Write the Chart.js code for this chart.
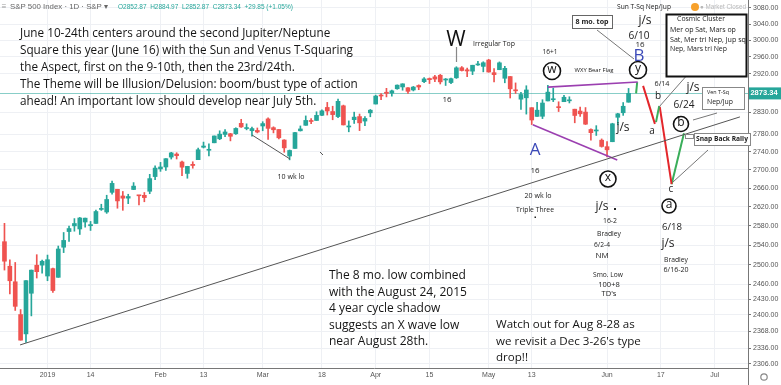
<!DOCTYPE html>
<html>
<head>
<meta charset="utf-8">
<script src="https://cdn.jsdelivr.net/npm/chart.js@4.4.0/dist/chart.umd.min.js"></script>
<style>
html, body { margin: 0; padding: 0; background: #fff; }
#wrap { width: 781px; height: 385px; }
</style>
</head>
<body>
<div id="wrap"><canvas id="chart" width="781" height="385"></canvas></div>
<script>
// S&P 500 daily candles, Dec 19 2018 .. Jun 7 2019 (x = trading day index)
const opens = [
    2547.05, 2496.77, 2465.38, 2400.56, 2363.12, 2442.50, 2498.77, 2498.94,
    2476.96, 2491.92, 2474.33, 2535.61, 2568.11, 2580.00, 2573.51, 2588.11, 2580.31, 2585.10, 2614.75, 2609.28, 2651.27, 2657.88, 2643.48, 2638.84, 2657.44, 2644.97, 2644.89, 2653.62, 2685.49,
    2702.32, 2706.49, 2728.34, 2735.05, 2717.53, 2692.36, 2712.40, 2722.61, 2750.30, 2743.50, 2760.24, 2769.28, 2779.05, 2780.67, 2780.67, 2804.35, 2792.36, 2787.50, 2788.11,
    2798.22, 2814.37, 2794.41, 2790.27, 2766.53, 2730.79, 2747.61, 2787.34, 2799.78, 2810.38, 2810.79, 2822.61, 2840.76, 2831.34, 2819.72, 2844.52, 2796.01, 2812.66, 2819.72, 2809.40, 2828.27,
    2848.63, 2868.24, 2876.09, 2873.99, 2884.16, 2888.46, 2886.58, 2881.37, 2891.92, 2900.86, 2908.32, 2912.26, 2916.04, 2904.81, 2898.78, 2909.99, 2934.00, 2928.99, 2925.81, 2940.58, 2937.14,
    2952.33, 2922.16, 2929.21, 2908.89, 2913.03, 2879.61, 2859.84, 2863.10, 2840.19, 2820.12, 2820.38, 2855.80, 2858.60, 2841.94, 2854.02, 2856.06, 2836.70, 2832.41, 2830.03, 2790.25, 2786.94, 2766.15,
    2751.53, 2762.64, 2818.09, 2828.51, 2852.87
];
const highs = [
    2585.29, 2509.63, 2504.41, 2410.34, 2467.76, 2489.10, 2520.27, 2509.24,
    2519.49, 2493.14, 2538.07, 2566.16, 2579.82, 2595.32, 2597.82, 2596.27, 2589.32, 2613.08, 2625.76, 2645.06, 2675.47, 2657.88, 2653.19, 2647.20, 2672.38, 2644.97, 2650.93, 2690.44, 2708.95,
    2716.66, 2724.99, 2738.98, 2738.08, 2719.32, 2708.07, 2718.05, 2748.19, 2761.85, 2757.90, 2775.66, 2787.33, 2789.88, 2781.58, 2794.20, 2813.49, 2803.12, 2795.76, 2793.73,
    2808.02, 2816.88, 2796.44, 2790.27, 2767.25, 2744.13, 2784.00, 2798.32, 2821.24, 2815.00, 2830.73, 2835.41, 2852.42, 2843.54, 2860.31, 2846.16, 2809.79, 2829.87, 2825.56, 2819.71, 2836.03,
    2869.40, 2872.90, 2885.25, 2881.28, 2893.24, 2895.95, 2886.88, 2889.71, 2893.42, 2910.54, 2909.60, 2916.06, 2918.00, 2908.40, 2909.51, 2936.31, 2936.83, 2933.10, 2939.88, 2949.52, 2948.22,
    2954.13, 2931.68, 2947.85, 2937.32, 2913.03, 2897.96, 2875.97, 2891.31, 2840.19, 2852.54, 2858.68, 2892.15, 2885.48, 2853.86, 2868.88, 2865.47, 2836.70, 2841.36, 2840.51, 2792.03, 2799.00, 2768.98,
    2763.07, 2804.49, 2827.28, 2852.10, 2884.97
];
const lows = [
    2488.96, 2441.18, 2408.55, 2351.10, 2346.58, 2397.94, 2472.89, 2482.82,
    2467.47, 2443.96, 2474.33, 2524.56, 2547.56, 2568.89, 2562.02, 2577.40, 2570.41, 2585.10, 2612.68, 2606.36, 2647.58, 2617.27, 2612.86, 2627.01, 2657.33, 2624.06, 2631.05, 2648.34, 2678.65,
    2696.88, 2698.75, 2724.03, 2724.15, 2687.26, 2681.83, 2703.79, 2722.61, 2748.63, 2731.23, 2760.24, 2767.29, 2774.06, 2764.55, 2779.11, 2794.99, 2789.47, 2775.13, 2782.51,
    2787.38, 2767.66, 2782.54, 2768.69, 2739.09, 2722.27, 2747.61, 2786.73, 2799.78, 2803.46, 2810.79, 2821.99, 2823.27, 2812.43, 2817.38, 2800.47, 2785.02, 2803.99, 2787.72, 2798.77, 2819.23,
    2848.63, 2858.75, 2865.17, 2867.14, 2882.99, 2880.78, 2873.33, 2879.13, 2881.99, 2898.37, 2896.48, 2900.71, 2895.45, 2891.90, 2896.35, 2908.53, 2926.05, 2912.84, 2917.56, 2939.35, 2924.11,
    2923.36, 2900.50, 2929.21, 2898.21, 2862.60, 2873.28, 2836.40, 2825.39, 2801.43, 2820.12, 2815.08, 2855.80, 2854.23, 2831.29, 2854.02, 2851.11, 2805.49, 2820.19, 2801.58, 2766.06, 2776.74, 2750.52,
    2728.81, 2762.64, 2800.92, 2822.45, 2852.87
];
const closes = [
    2506.96, 2467.42, 2416.62, 2351.10, 2467.70, 2488.83, 2485.74, 2506.85,
    2510.03, 2447.89, 2531.94, 2549.69, 2574.41, 2584.96, 2596.64, 2596.26, 2582.61, 2610.30, 2616.10, 2635.96, 2670.71, 2632.90, 2638.70, 2642.33, 2664.76, 2643.85, 2640.00, 2681.05, 2704.10,
    2706.53, 2724.87, 2737.70, 2731.61, 2706.05, 2707.88, 2709.80, 2744.73, 2753.03, 2745.73, 2775.60, 2779.76, 2784.70, 2774.88, 2792.67, 2796.11, 2793.90, 2792.38, 2784.49,
    2803.69, 2792.81, 2789.65, 2771.45, 2748.93, 2743.07, 2783.30, 2791.52, 2810.92, 2808.48, 2822.48, 2832.94, 2832.57, 2824.23, 2854.88, 2800.71, 2798.36, 2818.46, 2805.37, 2815.44, 2834.40,
    2867.19, 2867.24, 2873.40, 2879.39, 2892.74, 2895.77, 2878.20, 2888.21, 2888.32, 2907.41, 2905.58, 2907.06, 2900.45, 2905.03, 2907.97, 2933.68, 2927.25, 2926.17, 2939.88, 2943.03, 2945.83,
    2923.73, 2917.52, 2945.64, 2932.47, 2884.05, 2879.42, 2870.72, 2881.40, 2811.87, 2834.41, 2850.96, 2876.32, 2859.53, 2840.23, 2864.36, 2856.27, 2822.24, 2826.06, 2802.39, 2783.02, 2788.86, 2752.06,
    2744.45, 2803.27, 2826.15, 2843.49, 2873.34
];

// axis ticks
const xTickPos = [8, 16, 29, 37, 48, 59, 69, 79, 90, 98, 112, 122, 132];
const xTickText = ['2019', '14', 'Feb', '13', 'Mar', '18', 'Apr', '15', 'May', '13', 'Jun', '17', 'Jul'];
const yTicks = [2306, 2336, 2368, 2400, 2430, 2460, 2500, 2540, 2580, 2620, 2660, 2700, 2740, 2780, 2830, 2920, 2960, 3000, 3040, 3080];

// drawn lines: [day index, price]
const trendLine = [[2.9, 2342], [136.7, 2819]];
const flagTop = [[101.0, 2888], [117.7, 2900]];
const flagBottom = [[98.2, 2801], [113.9, 2722]];
const projUp1 = [[117.4, 2873.34], [117.6, 2900]];
const projDown1 = [[118.7, 2891], [120.9, 2803]];
const projUp2 = [[121.1, 2807], [121.7, 2844]];
const projDown2 = [[121.8, 2842], [124.0, 2669]];
const projUp3 = [[124.0, 2669], [126.3, 2782]];

const UP = '#26a69a';
const DOWN = '#ef5350';
const FONT = '"Open Sans", "Noto Sans", sans-serif';
const AX_FONT = '"Liberation Sans", Arial, sans-serif';

const candleColor = ctx => {
    const i = ctx.dataIndex;
    return closes[i] >= opens[i] ? UP : DOWN;
};

function lineSet(points, color, width) {
    return {
        type: 'line',
        data: points.map(p => ({ x: p[0], y: p[1] })),
        borderColor: color,
        borderWidth: width,
        pointRadius: 0,
        fill: false,
        order: 0
    };
}

// text helper; if w is given the font size is fitted to that width
function put(ctx, s, x, y, o) {
    const fam = o.family || FONT;
    const wt = o.weight || 'normal';
    let size = o.size || 10;
    if (o.w) {
        ctx.font = `${wt} 100px ${fam}`;
        size = 100 * o.w / ctx.measureText(s).width;
    }
    ctx.font = `${wt} ${size}px ${fam}`;
    ctx.fillStyle = o.color || '#222';
    ctx.textAlign = o.align || 'center';
    ctx.textBaseline = 'middle';
    ctx.fillText(s, x, y);
    return size;
}

function block(ctx, lines, x, y0, step, refIdx, refW) {
    ctx.font = `100px ${FONT}`;
    const size = 100 * refW / ctx.measureText(lines[refIdx]).width;
    lines.forEach((s, i) => put(ctx, s, x, y0 + i * step, { size, align: 'left', color: '#151515' }));
}

function seg(ctx, x1, y1, x2, y2, color, w) {
    ctx.strokeStyle = color;
    ctx.lineWidth = w || 1;
    ctx.beginPath();
    ctx.moveTo(x1, y1);
    ctx.lineTo(x2, y2);
    ctx.stroke();
}

function circled(ctx, s, x, y, r) {
    ctx.fillStyle = '#fff';
    ctx.strokeStyle = '#111';
    ctx.lineWidth = 1.6;
    ctx.beginPath();
    ctx.arc(x, y, r, 0, Math.PI * 2);
    ctx.fill();
    ctx.stroke();
    put(ctx, s, x, y - 1, { size: 12, color: '#111' });
}

function box(ctx, x, y, w, h, border, bw) {
    ctx.fillStyle = '#fff';
    ctx.fillRect(x, y, w, h);
    ctx.strokeStyle = border;
    ctx.lineWidth = bw;
    ctx.strokeRect(x + 0.5, y + 0.5, w, h);
}

const annotations = {
    id: 'annotations',
    beforeDatasetsDraw(chart) {
        const { ctx, chartArea: a, scales: { y } } = chart;
        const py = Math.round(y.getPixelForValue(closes[closes.length - 1])) + 0.5;
        ctx.save();
        seg(ctx, a.left, py, a.right, py, 'rgba(38,166,154,0.55)', 1);
        ctx.restore();
    },
    afterDraw(chart) {
        const { ctx, chartArea: a, scales: { y } } = chart;
        const n = closes.length - 1;
        ctx.save();

        // header
        put(ctx, '\u2261', 4, 7, { size: 8, color: '#999', family: AX_FONT });
        put(ctx, 'S&P 500 Index \u00b7 1D \u00b7 S&P \u25be', 10, 7, { w: 98, align: 'left', color: '#666', family: AX_FONT });
        const chg = closes[n] - closes[n - 1];
        const hdr = `O${opens[n].toFixed(2)}  H${highs[n].toFixed(2)}  L${lows[n].toFixed(2)}  C${closes[n].toFixed(2)}  +${chg.toFixed(2)} (+${(chg / closes[n - 1] * 100).toFixed(2)}%)`;
        put(ctx, hdr, 118, 7, { w: 175, align: 'left', color: UP, family: AX_FONT });
        ctx.fillStyle = '#f7a12b';
        ctx.beginPath(); ctx.arc(695, 7, 4, 0, Math.PI * 2); ctx.fill();
        put(ctx, '\u25cf Market Closed', 700, 7, { w: 46, align: 'left', color: '#b8b8b8', family: AX_FONT });

        // big text blocks
        block(ctx, [
            'June 10-24th centers around the second Jupiter/Neptune',
            'Square this year (June 16) with the Sun and Venus T-Squaring',
            'the Aspect, first on the 9-10th, then the 23rd/24th.',
            'The Theme will be Illusion/Delusion: boom/bust type of action',
            'ahead! An important low should develop near July 5th.'
        ], 20, 34, 17, 3, 338);
        block(ctx, [
            'The 8 mo. low combined',
            'with the August 24, 2015',
            '4 year cycle shadow',
            'suggests an X wave low',
            'near August 28th.'
        ], 329, 276, 16.5, 1, 138);
        block(ctx, [
            'Watch out for Aug 8-28 as',
            "we revisit a Dec 3-26's type",
            'drop!!'
        ], 496, 325, 16.5, 1, 145);

        // leader lines
        const g = '#777';
        seg(ctx, 456.5, 47, 456.5, 62, '#888', 1.2);
        seg(ctx, 252, 135, 290, 159, '#555', 1);
        seg(ctx, 320, 152, 323, 155, '#555', 1);
        seg(ctx, 597, 30, 634, 59, g, 1);
        seg(ctx, 703, 57, 659, 107, g, 1);
        seg(ctx, 693, 120, 717, 113, g, 1);
        seg(ctx, 708, 150, 673, 182, g, 1);

        // boxes
        box(ctx, 572, 15, 40, 13, '#666', 1);
        put(ctx, '8 mo. top', 592, 21.5, { w: 33, weight: 'bold', color: '#222' });
        box(ctx, 666, 14, 80, 62, '#111', 2);
        put(ctx, 'Cosmic Cluster', 701, 19, { w: 48, color: '#222' });
        put(ctx, 'Mer op Sat, Mars op', 670, 29.5, { w: 66, align: 'left' });
        put(ctx, 'Sat, Mer tri Nep, Jup sq', 670, 39.5, { w: 76, align: 'left' });
        put(ctx, 'Nep, Mars tri Nep', 670, 49, { w: 57, align: 'left' });
        box(ctx, 702, 87, 42, 22, '#888', 1);
        put(ctx, 'Ven T-Sq', 707, 92, { w: 22, align: 'left' });
        put(ctx, 'Nep/Jup', 707, 102.5, { w: 26, align: 'left' });
        box(ctx, 694, 133, 56, 12, '#888', 1);
        put(ctx, 'Snap Back Rally', 696, 139.5, { w: 52, align: 'left', weight: 'bold' });
        box(ctx, 685, 134, 8, 4, '#888', 1);

        // labels
        put(ctx, 'Sun T-Sq Nep/Jup', 644, 7, { w: 54 });
        put(ctx, 'Irregular Top', 494, 44, { w: 42 });
        put(ctx, '16+1', 550, 52, { w: 15 });
        put(ctx, 'WXY Bear Flag', 594, 70, { w: 39 });
        put(ctx, '16', 447, 100, { size: 8 });
        put(ctx, '10 wk lo', 291, 177, { w: 27 });
        put(ctx, '16', 535, 171, { size: 8 });
        put(ctx, '20 wk lo', 538, 196, { w: 27 });
        put(ctx, 'Triple Three', 535, 210, { w: 38 });
        put(ctx, '16-2', 610, 221, { w: 14 });
        put(ctx, 'Bradley', 609, 234, { w: 24 });
        put(ctx, '6/2-4', 602, 245, { w: 16 });
        put(ctx, 'NM', 602, 256, { size: 8 });
        put(ctx, 'Smo. Low', 608, 275, { w: 30 });
        put(ctx, '100+8', 609, 285, { size: 7.5 });
        put(ctx, "TD's", 609, 294, { size: 7.5 });
        put(ctx, 'Bradley', 676, 260, { w: 24 });
        put(ctx, '6/16-20', 676, 270, { w: 25 });
        put(ctx, '6/14', 662, 84, { w: 15 });
        put(ctx, 'b', 658, 96, { size: 10 });
        put(ctx, 'a', 652, 131, { size: 10 });
        put(ctx, 'c', 671, 189, { size: 10 });
        put(ctx, '16', 640, 45, { size: 8 });
        put(ctx, '6/10', 639, 36, { w: 21 });
        put(ctx, '6/24', 684, 105, { w: 21 });
        put(ctx, '6/18', 672, 227, { w: 20 });
        put(ctx, 'j/s', 645, 21, { size: 12 });
        put(ctx, 'j/s', 623, 128, { size: 12 });
        put(ctx, 'j/s', 693, 88, { size: 12 });
        put(ctx, 'j/s', 602, 207, { size: 12 });
        put(ctx, 'j/s', 668, 244, { size: 12 });
        ctx.fillStyle = '#222';
        ctx.fillRect(614, 208, 2, 2);
        ctx.fillRect(534.5, 216.5, 1.5, 1.5);
        put(ctx, 'W', 456, 40, { size: 21, color: '#111' });
        put(ctx, 'A', 535, 150, { size: 17, color: '#3b49b8' });
        put(ctx, 'B', 639, 56, { size: 17, color: '#3b49b8' });

        circled(ctx, 'w', 552, 71, 8.5);
        circled(ctx, 'y', 638, 70, 8.5);
        circled(ctx, 'x', 608, 179, 8);
        circled(ctx, 'b', 681, 124, 7.5);
        circled(ctx, 'a', 669, 206, 7);

        // last price tag and axis extras
        const py = y.getPixelForValue(closes[n]);
        ctx.fillStyle = UP;
        ctx.fillRect(a.right + 1, py - 6, 33, 12);
        put(ctx, closes[n].toFixed(2), a.right + 16, py, { size: 7.5, weight: 'bold', color: '#fff', family: AX_FONT });
        seg(ctx, a.right + 0.5, a.bottom, a.right + 0.5, 385, '#777', 1);
        ctx.strokeStyle = '#888';
        ctx.lineWidth = 1.2;
        ctx.beginPath(); ctx.arc(764, 377, 3.2, 0, Math.PI * 2); ctx.stroke();
        ctx.restore();
    }
};

new Chart(document.getElementById('chart'), {
    type: 'bar',
    data: {
        datasets: [
            lineSet(trendLine, '#555', 1),
            lineSet(flagTop, '#9b3fb0', 1.6),
            lineSet(flagBottom, '#9b3fb0', 1.6),
            lineSet(projUp1, '#3aae5a', 2),
            lineSet(projDown1, '#e3262b', 2),
            lineSet(projUp2, '#3aae5a', 2),
            lineSet(projDown2, '#e3262b', 2),
            lineSet(projUp3, '#3aae5a', 2),
            {
                data: closes.map((c, i) => ({ x: i, y: [lows[i], highs[i]] })),
                backgroundColor: candleColor,
                barThickness: 1,
                grouped: false,
                order: 2
            },
            {
                data: closes.map((c, i) => ({ x: i, y: [opens[i], c] })),
                backgroundColor: candleColor,
                barThickness: 4,
                minBarLength: 1,
                grouped: false,
                order: 1
            }
        ]
    },
    options: {
        responsive: false,
        animation: false,
        layout: { padding: 0 },
        plugins: { legend: { display: false }, tooltip: { enabled: false } },
        scales: {
            x: {
                type: 'linear',
                offset: false,
                min: -0.83,
                max: 138.2,
                afterBuildTicks: axis => { axis.ticks = xTickPos.map(v => ({ value: v })); },
                afterFit: axis => { axis.height = 17; axis.paddingLeft = 0; axis.paddingRight = 0; },
                ticks: {
                    autoSkip: false,
                    maxRotation: 0,
                    padding: 3,
                    color: '#555',
                    font: { size: 7, family: AX_FONT },
                    callback: v => xTickText[xTickPos.indexOf(v)]
                },
                grid: { color: '#eef0f4', drawTicks: false, offset: false },
                border: { color: '#777' }
            },
            y: {
                type: 'logarithmic',
                position: 'right',
                min: 2298.5,
                max: 3100,
                afterBuildTicks: axis => { axis.ticks = yTicks.map(v => ({ value: v })); },
                afterFit: axis => { axis.width = 33; axis.paddingTop = 0; axis.paddingBottom = 0; },
                ticks: {
                    padding: 2,
                    color: '#555',
                    font: { size: 7, family: AX_FONT },
                    callback: v => Number(v).toFixed(2)
                },
                grid: { color: '#eef0f4', tickLength: 3, tickColor: '#777' },
                border: { color: '#777' }
            }
        }
    },
    plugins: [annotations]
});
</script>
</body>
</html>
